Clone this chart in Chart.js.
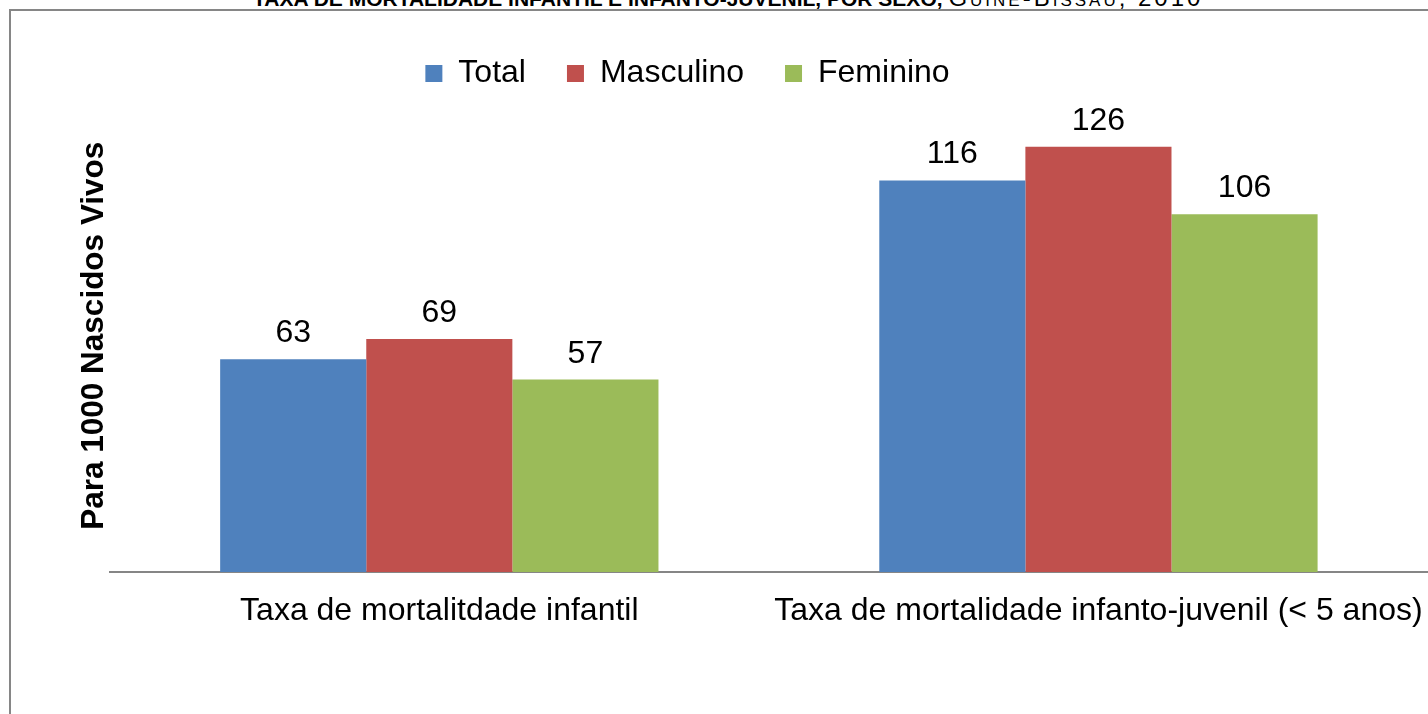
<!DOCTYPE html>
<html>
<head>
<meta charset="utf-8">
<script src="https://cdn.jsdelivr.net/npm/chart.js@4.4.0/dist/chart.umd.min.js"></script>
<style>
  body { margin: 0; background: #fff; overflow: hidden; }
  #caixa { position: relative; width: 1428px; height: 714px; overflow: hidden; }
  #moldura { position: absolute; left: 9px; top: 9px; width: 1500px; height: 800px;
             border-left: 2px solid #868686; border-top: 2px solid #868686; }
  #titulo { position: absolute; left: 253px; top: -13px; white-space: nowrap; color: #000;
            font: bold 21px/21px "Liberation Sans", Arial, sans-serif; }
  #titulo span { font-weight: normal; font-variant: small-caps; font-size: 24px; letter-spacing: 3px; }
  canvas { position: absolute; left: 0; top: 0; }
</style>
</head>
<body>
<div id="caixa">
  <div id="moldura"></div>
  <div id="titulo">TAXA DE MORTALIDADE INFANTIL E INFANTO-JUVENIL, POR SEXO, <span>Guiné-Bissau, 2010</span></div>
  <canvas id="grafico" width="1428" height="714"></canvas>
</div>
<script>
// dados
var categorias = ['Taxa de mortalitdade infantil', 'Taxa de mortalidade infanto-juvenil (< 5 anos)']
var series = ['Total', 'Masculino', 'Feminino']
var total = [63, 116]
var masculino = [69, 126]
var feminino = [57, 106]
var cores = ['#4F81BD', '#C0504D', '#9BBB59']

var fonte = '"Liberation Sans", Arial, sans-serif'

// valores em cima das barras
var rotulos = {
    id: 'rotulos',
    afterDatasetsDraw: function (chart) {
        var ctx = chart.ctx
        ctx.save()
        ctx.font = '32px ' + fonte
        ctx.fillStyle = '#000'
        ctx.textAlign = 'center'
        ctx.textBaseline = 'alphabetic'
        chart.data.datasets.forEach(function (ds, i) {
            chart.getDatasetMeta(i).data.forEach(function (barra, j) {
                ctx.fillText(ds.data[j], barra.x, barra.y - 17)
            })
        })
        ctx.restore()
    }
}

// legenda um pouco para a esquerda, como no original
var moverLegenda = {
    id: 'moverLegenda',
    afterLayout: function (chart) {
        var leg = chart.legend
        var d = 687.5 - (leg.left + leg.right) / 2
        leg.left += d
        leg.right += d
    }
}

var ctx = document.getElementById('grafico').getContext('2d')
var chart = new Chart(ctx, {
    type: 'bar',
    data: {
        labels: categorias,
        datasets: [
            { label: series[0], data: total, backgroundColor: cores[0] },
            { label: series[1], data: masculino, backgroundColor: cores[1] },
            { label: series[2], data: feminino, backgroundColor: cores[2] }
        ]
    },
    options: {
        responsive: false,
        animation: false,
        layout: { padding: { left: 78.25, top: 16.5, right: 0, bottom: 63 } },
        datasets: { bar: { categoryPercentage: 0.665, barPercentage: 1 } },
        plugins: {
            tooltip: { enabled: false },
            legend: {
                labels: { boxWidth: 17, boxHeight: 17, padding: 41, color: '#000', font: { size: 32, family: fonte } }
            }
        },
        scales: {
            x: {
                grid: { display: false, drawTicks: false },
                border: { display: true, color: '#868686', width: 2 },
                ticks: { color: '#000', font: { size: 32, family: fonte, lineHeight: 2.47 }, padding: 0, maxRotation: 0, autoSkip: false }
            },
            y: {
                min: 0,
                max: 140,
                grid: { display: false, drawTicks: false },
                border: { display: false },
                ticks: { display: false },
                title: {
                    display: true,
                    text: 'Para 1000 Nascidos Vivos',
                    color: '#000',
                    font: { size: 31.5, weight: 'bold', family: fonte, lineHeight: 1 },
                    padding: 0
                }
            }
        }
    },
    plugins: [rotulos, moverLegenda]
})
</script>
</body>
</html>
